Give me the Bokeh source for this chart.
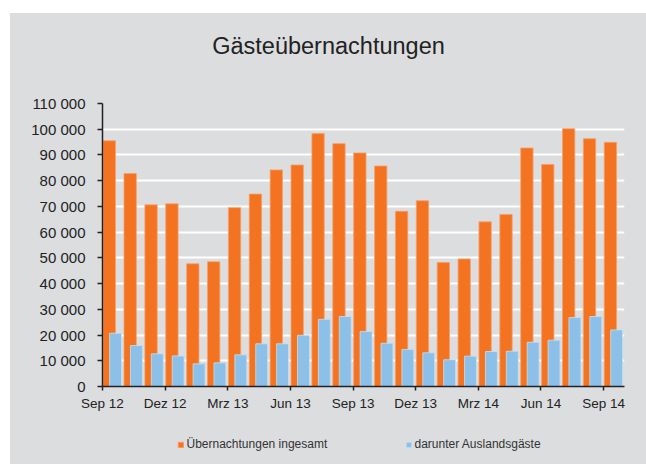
from bokeh.plotting import figure
from bokeh.models import (ColumnDataSource, FixedTicker, Legend, LegendItem, Label, Range1d, Spacer)
from bokeh.layouts import column, row
from bokeh.embed import file_html
from bokeh.resources import INLINE

months = ["Sep 12", "Okt 12", "Nov 12", "Dez 12", "Jan 13", "Feb 13", "Mrz 13", "Apr 13", "Mai 13",
          "Jun 13", "Jul 13", "Aug 13", "Sep 13", "Okt 13", "Nov 13", "Dez 13", "Jan 14", "Feb 14",
          "Mrz 14", "Apr 14", "Mai 14", "Jun 14", "Jul 14", "Aug 14", "Sep 14"]
uebernachtungen = [95500, 82800, 70600, 71000, 47700, 48500, 69500, 74800, 84200,
                   86100, 98300, 94400, 90800, 85700, 68100, 72200, 48200, 49600,
                   64000, 66900, 92700, 86300, 100200, 96300, 94900]
ausland = [20700, 15900, 12700, 11900, 8800, 9200, 12300, 16600, 16600,
           19900, 26100, 27200, 21400, 16800, 14400, 13100, 10400, 11800,
           13600, 13700, 17200, 18000, 26800, 27200, 22000]
x_tick_labels = ["Sep 12", "Dez 12", "Mrz 13", "Jun 13", "Sep 13", "Dez 13", "Mrz 14", "Jun 14", "Sep 14"]
y_ticks = [0, 10000, 20000, 30000, 40000, 50000, 60000, 70000, 80000, 90000, 100000, 110000]
y_tick_labels = ["0", "10 000", "20 000", "30 000", "40 000", "50 000", "60 000", "70 000",
                 "80 000", "90 000", "100 000", "110 000"]
title_text = "Gästeübernachtungen"
series_names = ["Übernachtungen ingesamt", "darunter Auslandsgäste"]

BG = "#dcdddf"
ORANGE = "#f47321"
BLUE = "#8cc0e8"
ORANGE_EDGE = "#f6a06a"
BLUE_EDGE = "#c8dff0"
FONT = "Liberation Sans"
TXT = "#222222"
W = 636
BL, BR = 92, 22          # left / right borders shared by all strips
FW = W - BL - BR         # frame width in px

# ---------- title strip ----------
TH = 77
ts = figure(width=W, height=TH, output_backend="svg", toolbar_location=None,
            x_axis_location=None, y_axis_location=None,
            x_range=Range1d(0, FW), y_range=Range1d(0, TH),
            min_border_left=BL, min_border_right=BR, min_border_top=0, min_border_bottom=0)
ts.background_fill_color = None
ts.border_fill_color = BG
ts.outline_line_color = None
ts.grid.grid_line_color = None
ts.add_layout(Label(x=226, y=44.3, text=title_text, text_align="center", text_baseline="alphabetic",
                    text_font=FONT, text_font_size="23.5px", text_color=TXT))

# ---------- main chart ----------
idx = list(range(len(months)))
src = ColumnDataSource(dict(
    xo=[i + 0.325 for i in idx],
    xb=[i + 0.625 for i in idx],
    tot=uebernachtungen,
    aus=ausland,
))

p = figure(width=W, height=333, output_backend="svg", toolbar_location=None,
           x_range=Range1d(0, len(months)), y_range=Range1d(0, 110000),
           min_border_left=BL, min_border_right=BR, min_border_top=13, min_border_bottom=37)
p.background_fill_color = None
p.border_fill_color = BG
p.outline_line_color = None

p.vbar(x="xo", width=0.59, top="tot", bottom=0, source=src,
       fill_color=ORANGE, line_color=ORANGE_EDGE, line_width=0.8)
p.vbar(x="xb", width=0.57, top="aus", bottom=0, source=src,
       fill_color=BLUE, line_color=BLUE_EDGE, line_width=0.8)

p.xgrid.grid_line_color = None
p.ygrid.grid_line_color = "white"
p.ygrid.grid_line_width = 2
p.ygrid.ticker = FixedTicker(ticks=y_ticks)

xa = p.xaxis[0]
xa.ticker = FixedTicker(ticks=[months.index(m) for m in x_tick_labels])
xa.major_label_overrides = {months.index(m): m for m in x_tick_labels}
xa.minor_tick_line_color = None
xa.major_tick_in = 0
xa.major_tick_out = 4
xa.major_tick_line_color = TXT
xa.axis_line_color = TXT
xa.axis_line_width = 1.5
xa.major_tick_line_width = 1.5
xa.major_label_text_font = FONT
xa.major_label_text_font_size = "13.5px"
xa.major_label_text_color = TXT
xa.major_label_standoff = 5

ya = p.yaxis[0]
ya.ticker = FixedTicker(ticks=y_ticks)
ya.major_label_overrides = dict(zip(y_ticks, y_tick_labels))
ya.minor_tick_line_color = None
ya.major_tick_in = 0
ya.major_tick_out = 5
ya.major_tick_line_color = TXT
ya.axis_line_color = TXT
ya.axis_line_width = 1.5
ya.major_tick_line_width = 1.5
ya.major_label_text_font = FONT
ya.major_label_text_font_size = "15px"
ya.major_label_text_color = TXT
ya.major_label_standoff = 12

# ---------- legend strip ----------
lg = figure(width=W, height=41, output_backend="svg", toolbar_location=None,
            x_axis_location=None, y_axis_location=None,
            x_range=Range1d(0, 1), y_range=Range1d(0, 1),
            min_border_left=BL, min_border_right=BR, min_border_top=0, min_border_bottom=0)
lg.background_fill_color = None
lg.border_fill_color = BG
lg.outline_line_color = None
lg.grid.grid_line_color = None
dummy = ColumnDataSource(dict(x=[-5], top=[-5]))
l1 = lg.vbar(x="x", top="top", width=0.1, source=dummy, fill_color=ORANGE, line_color=ORANGE_EDGE)
l2 = lg.vbar(x="x", top="top", width=0.1, source=dummy, fill_color=BLUE, line_color=BLUE_EDGE)
legend = Legend(items=[LegendItem(label=series_names[0], renderers=[l1]),
                       LegendItem(label=series_names[1], renderers=[l2])],
                orientation="horizontal", location=(74.5, 13),
                glyph_width=7, glyph_height=7, label_standoff=3, label_width=218, spacing=0,
                padding=0, margin=0, border_line_color=None, background_fill_alpha=0,
                label_text_font=FONT, label_text_font_size="12px", label_text_color="#333333",
                label_height=12)
lg.add_layout(legend, "center")

inner = column(ts, p, lg, spacing=0, styles={"background-color": BG})
layout = column(Spacer(height=13), row(Spacer(width=10), inner))
open("out.html", "w").write(file_html(layout, INLINE))
